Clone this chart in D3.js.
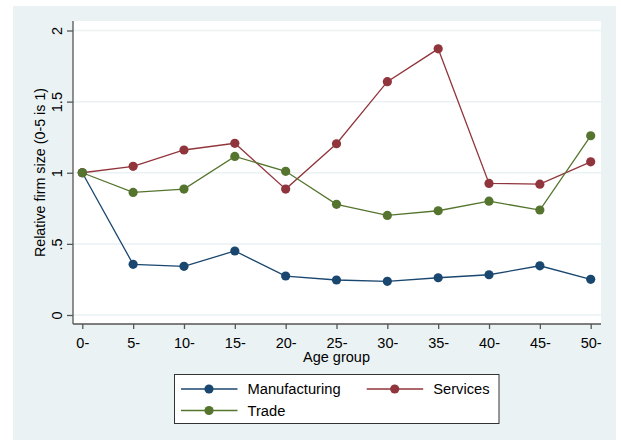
<!DOCTYPE html>
<html><head><meta charset="utf-8">
<script src="https://cdn.jsdelivr.net/npm/d3@7"></script>
<style>body{margin:0;background:#fff}svg{display:block}text{font-family:"Liberation Sans",Arial,sans-serif;fill:#000}</style>
</head><body>
<svg id="c" width="621" height="440"></svg>
<script>
const ageGroups = [0,5,10,15,20,25,30,35,40,45,50];
const tickLabels = ["0-","5-","10-","15-","20-","25-","30-","35-","40-","45-","50-"];
const manufacturing = [1.0,0.356,0.342,0.45,0.274,0.246,0.237,0.262,0.283,0.346,0.251];
const services = [1.0,1.045,1.16,1.207,0.885,1.204,1.64,1.871,0.925,0.92,1.077];
const trade = [1.0,0.862,0.885,1.115,1.01,0.778,0.70,0.733,0.80,0.738,1.26];
const yTicks = [0,0.5,1,1.5,2];
const yTickLabels = ["0",".5","1","1.5","2"];
const seriesNames = ["Manufacturing","Services","Trade"];
const seriesColors = ["#1a476f","#90353b","#55752f"];

const svg = d3.select("#c");
svg.append("rect").attr("x",13).attr("y",6).attr("width",603).attr("height",434).attr("fill","#eaf2f3");
const L=73,R=601,T=21,B=324;
svg.append("rect").attr("x",L).attr("y",T).attr("width",R-L).attr("height",B-T).attr("fill","#fff");

const x = d3.scaleLinear().domain([0,50]).range([82.3,590.7]);
const y = d3.scaleLinear().domain([0,2]).range([315,30.5]);

// gridlines
svg.append("g").selectAll("line").data(yTicks).join("line")
  .attr("x1",L).attr("x2",R).attr("y1",d=>y(d)).attr("y2",d=>y(d))
  .attr("stroke","#eaf2f3").attr("stroke-width",1.5);

// y axis
const yAxis = d3.axisLeft(y).tickValues(yTicks).tickFormat((d,i)=>yTickLabels[i]).tickSize(6).tickSizeOuter(0);
const gy = svg.append("g").attr("transform",`translate(${L},0)`).call(yAxis);
gy.select(".domain").attr("d",`M0,${T}V${B}`).attr("stroke","#555").attr("stroke-width",1.3);
gy.selectAll(".tick line").attr("stroke","#555").attr("stroke-width",1.3);
gy.selectAll(".tick text").attr("x",0).attr("y",0).attr("dy",0)
  .attr("transform","translate(-11,0) rotate(-90)")
  .attr("text-anchor","middle").style("font-size","14.5px").style("font-family","Liberation Sans, Arial, sans-serif").attr("fill","#000");

// x axis
const xAxis = d3.axisBottom(x).tickValues(ageGroups).tickFormat((d,i)=>tickLabels[i]).tickSize(5).tickSizeOuter(0);
const gx = svg.append("g").attr("transform",`translate(0,${B})`).call(xAxis);
gx.select(".domain").attr("d",`M${L},0H${R}`).attr("stroke","#555").attr("stroke-width",1.3);
gx.selectAll(".tick line").attr("stroke","#555").attr("stroke-width",1.3);
gx.selectAll(".tick text").attr("y",23.5).attr("dy",0)
  .style("font-size","14.5px").style("font-family","Liberation Sans, Arial, sans-serif").attr("fill","#000");

// titles
svg.append("text").attr("x",336.5).attr("y",362).attr("text-anchor","middle").style("font-size","14.5px").text("Age group");
svg.append("text").attr("transform",`translate(45,172.5) rotate(-90)`).attr("text-anchor","middle").style("font-size","14.3px").text("Relative firm size (0-5 is 1)");

// series
const data = [manufacturing,services,trade];
const line = d3.line().x((d,i)=>x(ageGroups[i])).y(d=>y(d));
data.forEach((s,k)=>{
  svg.append("path").attr("d",line(s)).attr("fill","none").attr("stroke",seriesColors[k]).attr("stroke-width",1.3);
});
data.forEach((s,k)=>{
  svg.append("g").selectAll("circle").data(s).join("circle")
    .attr("cx",(d,i)=>x(ageGroups[i])).attr("cy",d=>y(d)).attr("r",4.6).attr("fill",seriesColors[k]);
});

// legend
svg.append("rect").attr("x",174.5).attr("y",374.5).attr("width",324.5).attr("height",49).attr("fill","#fff").attr("stroke","#333").attr("stroke-width",1);
const leg = [{x:181,y:389},{x:366.7,y:389},{x:181,y:410.5}];
leg.forEach((p,k)=>{
  svg.append("line").attr("x1",p.x).attr("x2",p.x+56.5).attr("y1",p.y).attr("y2",p.y).attr("stroke",seriesColors[k]).attr("stroke-width",1.3);
  svg.append("circle").attr("cx",p.x+28).attr("cy",p.y).attr("r",4.6).attr("fill",seriesColors[k]);
  svg.append("text").attr("x",p.x+66.5).attr("y",p.y+5).style("font-size","14.7px").text(seriesNames[k]);
});
</script>
</body></html>
